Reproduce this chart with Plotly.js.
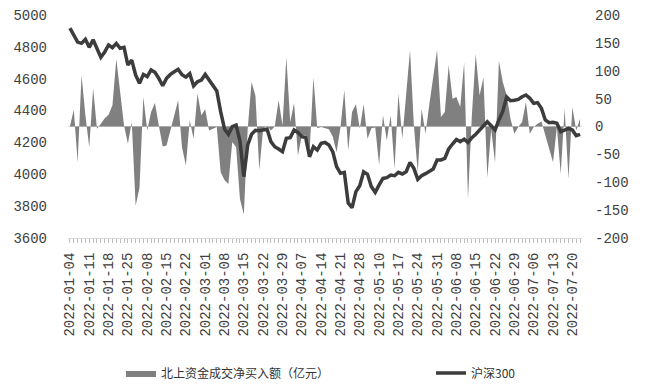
<!DOCTYPE html>
<html>
<head>
<meta charset="utf-8">
<script src="https://cdn.plot.ly/plotly-3.0.1.min.js"></script>
<style>html,body{margin:0;padding:0;background:#fff;}#chart{width:646px;height:392px;}</style>
</head>
<body>
<div id="chart"></div>
<script>
const dates = [
"2022-01-04","2022-01-05","2022-01-06","2022-01-07","2022-01-10","2022-01-11","2022-01-12","2022-01-13","2022-01-14","2022-01-17",
"2022-01-18","2022-01-19","2022-01-20","2022-01-21","2022-01-24","2022-01-25","2022-01-26","2022-01-27","2022-01-28","2022-02-07",
"2022-02-08","2022-02-09","2022-02-10","2022-02-11","2022-02-14","2022-02-15","2022-02-16","2022-02-17","2022-02-18","2022-02-21",
"2022-02-22","2022-02-23","2022-02-24","2022-02-25","2022-02-28","2022-03-01","2022-03-02","2022-03-03","2022-03-04","2022-03-07",
"2022-03-08","2022-03-09","2022-03-10","2022-03-11","2022-03-14","2022-03-15","2022-03-16","2022-03-17","2022-03-18","2022-03-21",
"2022-03-22","2022-03-23","2022-03-24","2022-03-25","2022-03-28","2022-03-29","2022-03-30","2022-03-31","2022-04-01","2022-04-06",
"2022-04-07","2022-04-08","2022-04-11","2022-04-12","2022-04-13","2022-04-14","2022-04-15","2022-04-18","2022-04-19","2022-04-20",
"2022-04-21","2022-04-22","2022-04-25","2022-04-26","2022-04-27","2022-04-28","2022-04-29","2022-05-05","2022-05-06","2022-05-09",
"2022-05-10","2022-05-11","2022-05-12","2022-05-13","2022-05-16","2022-05-17","2022-05-18","2022-05-19","2022-05-20","2022-05-23",
"2022-05-24","2022-05-25","2022-05-26","2022-05-27","2022-05-30","2022-05-31","2022-06-01","2022-06-02","2022-06-06","2022-06-07",
"2022-06-08","2022-06-09","2022-06-10","2022-06-13","2022-06-14","2022-06-15","2022-06-16","2022-06-17","2022-06-20","2022-06-21",
"2022-06-22","2022-06-23","2022-06-24","2022-06-27","2022-06-28","2022-06-29","2022-06-30","2022-07-01","2022-07-04","2022-07-05",
"2022-07-06","2022-07-07","2022-07-08","2022-07-11","2022-07-12","2022-07-13","2022-07-14","2022-07-15","2022-07-18","2022-07-19",
"2022-07-20","2022-07-21","2022-07-22"];

// 北上资金成交净买入额（亿元） — right axis
const northFlow = [
0,30,-64,92,20,-37,68,-4,5,15,
21,38,121,62,2,-31,8,-142,-110,53,
-7,26,42,2,-36,-34,-7,23,47,-37,
-70,11,-22,59,20,31,-7,-4,-1,-82,
-96,-103,-28,-37,-130,-158,-4,80,55,-78,
-4,2,-7,0,47,2,124,8,42,-52,
-16,-16,-48,88,-3,-1,-3,-5,-18,-46,
-2,65,-43,26,40,-4,40,-22,-3,-2,
-69,20,-25,20,-76,59,-22,55,137,2,
-82,32,-13,40,90,137,17,26,110,50,
53,35,115,-130,20,130,56,88,-92,-5,
-65,118,80,56,14,-13,-1,8,44,-13,
-1,5,9,-16,-40,-64,-1,-85,32,-94,
35,-7,14];

// 沪深300 — left axis
const csi300 = [
4917,4868,4830,4822,4848,4797,4845,4790,4735,4768,
4812,4795,4822,4791,4797,4686,4717,4623,4571,4627,
4613,4655,4640,4602,4556,4602,4627,4644,4659,4625,
4610,4632,4555,4581,4592,4627,4592,4565,4523,4393,
4284,4251,4299,4309,4209,3985,4184,4251,4276,4274,
4278,4284,4205,4173,4159,4142,4226,4230,4278,4263,
4236,4230,4110,4173,4152,4194,4200,4184,4142,4048,
4006,4012,3820,3790,3891,3928,4016,4000,3922,3887,
3933,3974,3979,3995,3991,4012,4002,4016,4075,4037,
3968,3991,4004,4016,4033,4090,4090,4100,4159,4190,
4218,4205,4221,4200,4230,4251,4278,4309,4330,4305,
4278,4341,4395,4485,4462,4465,4470,4487,4498,4477,
4445,4450,4414,4341,4324,4326,4320,4267,4278,4288,
4278,4242,4251];

const leftTicks = [3600,3800,4000,4200,4400,4600,4800,5000];
const rightTicks = [-200,-150,-100,-50,0,50,100,150,200];
const rightTickText = ["-200","-150","-100","-50","0","50","100","150","200"];
const flowName = "北上资金成交净买入额（亿元）";
const indexName = "沪深300";

const tickText = dates.map((d, i) => (i % 5 === 0 ? d : ""));
const tickFont = {family: "Liberation Mono, DejaVu Sans Mono, monospace", size: 14, color: "#404040"};
const legendFont = {family: "Noto Sans CJK SC", size: 12, color: "#333333"};

const traces = [
  {
    x: dates, y: northFlow, name: flowName, type: "scatter", mode: "lines",
    fill: "tozeroy", fillcolor: "#808080", line: {width: 0, color: "#808080"},
    xaxis: "x", yaxis: "y", hoverinfo: "skip", legend: "legend"
  },
  {
    x: dates, y: csi300, name: indexName, type: "scatter", mode: "lines",
    line: {width: 3.5, color: "#3c3c3c"},
    xaxis: "x", yaxis: "y2", hoverinfo: "skip", legend: "legend2"
  }
];

const layout = {
  width: 646, height: 392,
  margin: {l: 68, r: 64, t: 15, b: 154},
  paper_bgcolor: "#ffffff", plot_bgcolor: "#ffffff",
  showlegend: true,
  legend: {
    orientation: "h", xref: "container", yref: "container",
    x: 121/646, xanchor: "left", y: 1 - 373/392, yanchor: "middle",
    font: legendFont, bgcolor: "rgba(0,0,0,0)"
  },
  legend2: {
    orientation: "h", xref: "container", yref: "container",
    x: 431/646, xanchor: "left", y: 1 - 373/392, yanchor: "middle",
    font: legendFont, bgcolor: "rgba(0,0,0,0)"
  },
  xaxis: {
    type: "category", range: [-0.5, dates.length - 0.5],
    tickmode: "array", tickvals: dates, ticktext: tickText,
    tickangle: -90, ticks: "outside", ticklen: 4, tickcolor: "#bfbfbf", tickwidth: 1,
    showline: true, linecolor: "#d9d9d9", linewidth: 1,
    showgrid: false, zeroline: false,
    tickfont: tickFont, ticklabelstandoff: 4, automargin: false
  },
  yaxis: {
    side: "right", range: [-200, 200],
    tickmode: "array", tickvals: rightTicks, ticktext: rightTickText,
    showgrid: false, zeroline: true, zerolinecolor: "#d9d9d9", zerolinewidth: 1,
    showline: false, ticks: "", tickfont: tickFont, ticklabelstandoff: 12, automargin: false
  },
  yaxis2: {
    overlaying: "y", side: "left", range: [3600, 5000],
    tickmode: "array", tickvals: leftTicks,
    showgrid: false, zeroline: false, showline: false, ticks: "",
    tickfont: tickFont, ticklabelstandoff: 20, automargin: false
  }
};

Plotly.newPlot("chart", traces, layout, {staticPlot: true, displayModeBar: false});
</script>
</body>
</html>
